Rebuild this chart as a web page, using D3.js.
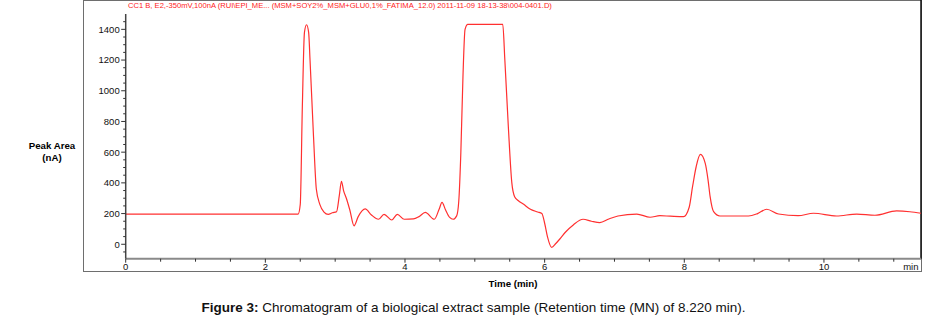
<!DOCTYPE html>
<html>
<head>
<meta charset="utf-8">
<script src="https://cdn.jsdelivr.net/npm/d3@7"></script>
<style>
  body { margin: 0; background: #fff; }
  svg { display: block; font-family: "Liberation Sans", Arial, sans-serif; }
</style>
</head>
<body>
<div id="canvas"></div>
<script>
"use strict"

/* Drawing size */
let svgWidth = 945;
let svgHeight = 324;

/* Plot area (pixels) */
let plotLeft = 125.7;
let plotRight = 921;
let plotTop = 14;
let plotBottom = 258.7;

/* Chromatogram: time (min) and signal (nA) */
let times = [
  0, 2.47, 2.50, 2.53, 2.56, 2.59, 2.62, 2.64, 2.69, 2.73, 2.78, 2.84, 2.90, 2.96,
  3.02, 3.06, 3.09, 3.12, 3.16, 3.21, 3.27, 3.33, 3.43, 3.52, 3.62, 3.70, 3.81, 3.89,
  3.99, 4.12, 4.20, 4.29, 4.42, 4.49, 4.53, 4.58, 4.64, 4.69, 4.74, 4.77, 4.80, 4.83,
  4.86, 4.90, 5.40, 5.43, 5.48, 5.53, 5.57, 5.62, 5.70, 5.79, 5.90, 5.96, 6.00, 6.04,
  6.10, 6.16, 6.22, 6.30, 6.41, 6.55, 6.67, 6.79, 6.92, 7.05, 7.32, 7.51, 7.65, 7.80,
  7.99, 8.07, 8.12, 8.17, 8.23, 8.30, 8.34, 8.37, 8.42, 8.51, 8.92, 9.05, 9.18, 9.35,
  9.63, 9.85, 10.18, 10.47, 10.73, 11.04, 11.23, 11.39
];
let signal = [
  197, 197, 260, 900, 1380, 1430, 1380, 1200, 700, 360, 260, 210, 195, 205,
  212, 320, 410, 350, 300, 223, 120, 180, 230, 191, 163, 195, 158, 195,
  163, 165, 180, 208, 163, 230, 273, 225, 175, 163, 185, 280, 600, 1090,
  1400, 1432, 1432, 1200, 766, 400, 310, 285, 260, 230, 210, 200, 137, 50,
  -20, 5, 36, 80, 126, 163, 150, 141, 165, 184, 197, 176, 186, 183,
  180, 241, 380, 505, 585, 527, 420, 310, 212, 184, 184, 200, 228, 197,
  186, 202, 184, 197, 189, 217, 212, 202
];

/* Axis ticks */
let xMajor = [0, 2, 4, 6, 8, 10];
let xMinor = [0.5, 1, 1.5, 2.5, 3, 3.5, 4.5, 5, 5.5, 6.5, 7, 7.5, 8.5, 9, 9.5, 10.5, 11];
let yMajor = [0, 200, 400, 600, 800, 1000, 1200, 1400];
let yMinor = [-50, 50, 100, 150, 250, 300, 350, 450, 500, 550, 650, 700, 750,
              850, 900, 950, 1050, 1100, 1150, 1250, 1300, 1350, 1450];

let titleText = "CC1 B, E2,-350mV,100nA (RUI\\EPI_ME... (MSM+SOY2%_MSM+GLU0,1%_FATIMA_12.0) 2011-11-09 18-13-38\\004-0401.D)";

let points = times.map(function(t, i) { return {t: t, v: signal[i]}; });

/* Create drawing canvas */
let svg = d3.select("#canvas")
  .append("svg")
  .attr("width", svgWidth)
  .attr("height", svgHeight);

/* Scales */
let xScale = d3.scaleLinear()
  .domain([0, 11.39])
  .range([plotLeft, plotRight]);

let yScale = d3.scaleLinear()
  .domain([-94, 1500])
  .range([plotBottom, plotTop]);

/* Outer frame */
svg.append("rect")
  .attr("x", 83.5)
  .attr("y", 0.5)
  .attr("width", plotRight - 83)
  .attr("height", 271)
  .attr("fill", "none")
  .attr("stroke", "#6e6e6e")
  .attr("stroke-width", 1);

/* Right border of plot */
svg.append("line")
  .attr("x1", plotRight).attr("x2", plotRight)
  .attr("y1", 0).attr("y2", plotBottom)
  .attr("stroke", "#111")
  .attr("stroke-width", 1.5);

/* Red header line */
svg.append("text")
  .attr("x", 128)
  .attr("y", 7.5)
  .attr("fill", "#ff1a1a")
  .style("font-size", "7.6px")
  .text(titleText);

/* Chromatogram trace */
svg.append("clipPath")
  .attr("id", "plotClip")
  .append("rect")
  .attr("x", plotLeft)
  .attr("y", 0)
  .attr("width", plotRight - plotLeft)
  .attr("height", plotBottom);

let line = d3.line()
  .x(function(d) { return xScale(d.t); })
  .y(function(d) { return yScale(d.v); })
  .curve(d3.curveMonotoneX);

svg.append("path")
  .datum(points)
  .attr("clip-path", "url(#plotClip)")
  .attr("fill", "none")
  .attr("stroke", "#ff3030")
  .attr("stroke-width", 1.2)
  .attr("d", line);

/* X axis: gray bar with ticks below */
let xAxis = svg.append("g").attr("class", "x-axis");

xAxis.append("line")
  .attr("x1", plotLeft).attr("x2", plotRight)
  .attr("y1", plotBottom).attr("y2", plotBottom)
  .attr("stroke", "#8a8a8a")
  .attr("stroke-width", 2);

xAxis.selectAll(".minor")
  .data(xMinor)
  .enter()
  .append("line")
  .attr("x1", function(d){ return xScale(d); })
  .attr("x2", function(d){ return xScale(d); })
  .attr("y1", plotBottom)
  .attr("y2", plotBottom + 3)
  .attr("stroke", "#333");

xAxis.selectAll(".major")
  .data(xMajor)
  .enter()
  .append("line")
  .attr("x1", function(d){ return xScale(d); })
  .attr("x2", function(d){ return xScale(d); })
  .attr("y1", plotBottom)
  .attr("y2", plotBottom + 4)
  .attr("stroke", "#333");

xAxis.selectAll(".label")
  .data(xMajor)
  .enter()
  .append("text")
  .attr("x", function(d){ return xScale(d); })
  .attr("y", 269.5)
  .attr("text-anchor", "middle")
  .style("font-size", "9.5px")
  .attr("fill", "#111")
  .text(function(d){ return d; });

xAxis.append("text")
  .attr("x", 918.5)
  .attr("y", 269.5)
  .attr("text-anchor", "end")
  .style("font-size", "9.5px")
  .attr("fill", "#111")
  .text("min");

/* Y axis: ticks to the left */
let yAxis = svg.append("g").attr("class", "y-axis");

yAxis.append("line")
  .attr("x1", plotLeft).attr("x2", plotLeft)
  .attr("y1", plotTop).attr("y2", plotBottom)
  .attr("stroke", "#444")
  .attr("stroke-width", 1.5);

yAxis.selectAll(".minor")
  .data(yMinor)
  .enter()
  .append("line")
  .attr("x1", plotLeft - 2.5)
  .attr("x2", plotLeft)
  .attr("y1", function(d){ return yScale(d); })
  .attr("y2", function(d){ return yScale(d); })
  .attr("stroke", "#333");

yAxis.selectAll(".major")
  .data(yMajor)
  .enter()
  .append("line")
  .attr("x1", plotLeft - 4.5)
  .attr("x2", plotLeft)
  .attr("y1", function(d){ return yScale(d); })
  .attr("y2", function(d){ return yScale(d); })
  .attr("stroke", "#333");

yAxis.selectAll(".label")
  .data(yMajor)
  .enter()
  .append("text")
  .attr("x", plotLeft - 6)
  .attr("y", function(d){ return yScale(d) + 3.4; })
  .attr("text-anchor", "end")
  .style("font-size", "9.5px")
  .attr("fill", "#111")
  .text(function(d){ return d; });

/* Axis titles */
svg.append("text")
  .attr("x", 52)
  .attr("y", 148.5)
  .attr("text-anchor", "middle")
  .style("font-size", "9.7px")
  .style("font-weight", "bold")
  .text("Peak Area");

svg.append("text")
  .attr("x", 52)
  .attr("y", 160.5)
  .attr("text-anchor", "middle")
  .style("font-size", "9.7px")
  .style("font-weight", "bold")
  .text("(nA)");

svg.append("text")
  .attr("x", 513)
  .attr("y", 286.5)
  .attr("text-anchor", "middle")
  .style("font-size", "9.7px")
  .style("font-weight", "bold")
  .text("Time (min)");

/* Figure caption */
let caption = svg.append("text")
  .attr("x", 473.5)
  .attr("y", 312)
  .attr("text-anchor", "middle")
  .style("font-family", "'Liberation Sans Narrow', 'Liberation Sans', Arial, sans-serif")
  .style("font-size", "13.5px")
  .attr("fill", "#111");

caption.append("tspan")
  .style("font-weight", "bold")
  .text("Figure 3:");

caption.append("tspan")
  .text(" Chromatogram of a biological extract sample (Retention time (MN) of 8.220 min).");
</script>
</body>
</html>
